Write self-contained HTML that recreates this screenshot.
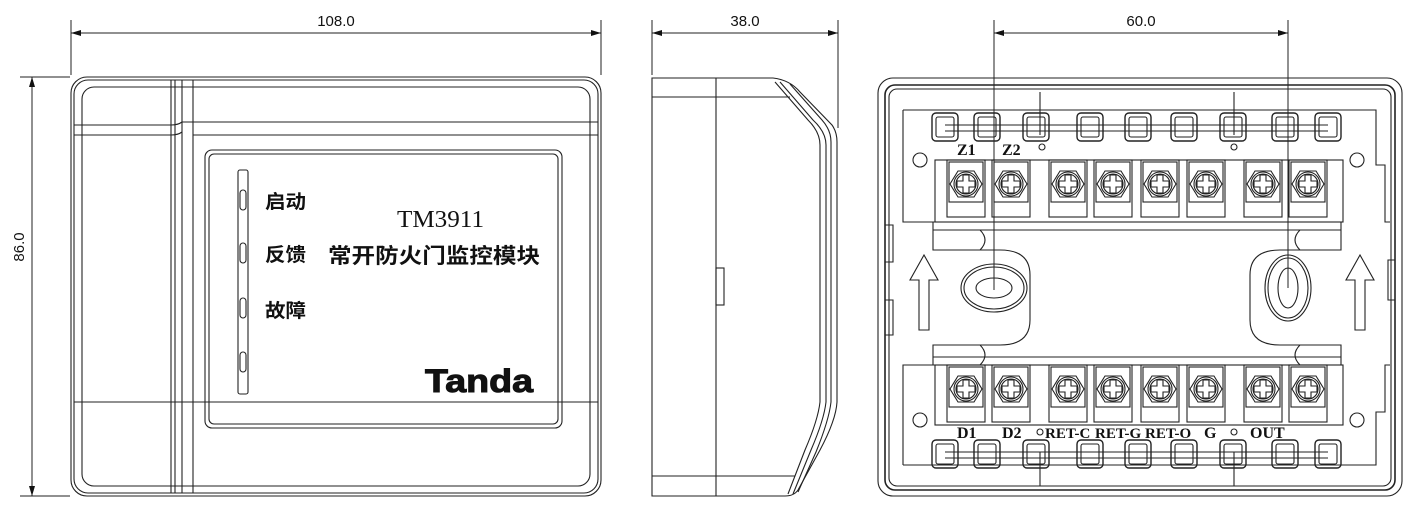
<!DOCTYPE html>
<html><head><meta charset="utf-8"><style>
html,body{margin:0;padding:0;background:#fff;width:1412px;height:507px;overflow:hidden}
svg{display:block}
text{font-family:"Liberation Sans","Noto Sans CJK SC",sans-serif;fill:#111}
.s{font-family:"Liberation Serif","Noto Serif CJK SC",serif}
</style></head><body>
<svg id="d" width="1412" height="507" viewBox="0 0 1412 507" xmlns="http://www.w3.org/2000/svg" fill="none" stroke="#222" stroke-width="1.1">
<defs><marker id="a" viewBox="0 0 10 6" refX="10" refY="3" markerWidth="14" markerHeight="6" orient="auto-start-reverse" markerUnits="userSpaceOnUse"><path d="M0,0L10,3L0,6z" fill="#111" stroke="none"/></marker></defs>
<g stroke-width="1">
<line x1="71" y1="20" x2="71" y2="75"/><line x1="601" y1="20" x2="601" y2="75"/>
<line x1="71" y1="33" x2="601" y2="33" marker-start="url(#a)" marker-end="url(#a)"/>
<line x1="20" y1="77" x2="70" y2="77"/><line x1="20" y1="496" x2="70" y2="496"/>
<line x1="32" y1="77" x2="32" y2="496" marker-start="url(#a)" marker-end="url(#a)"/>
<line x1="652" y1="20" x2="652" y2="75"/><line x1="838" y1="20" x2="838" y2="128"/>
<line x1="652" y1="33" x2="838" y2="33" marker-start="url(#a)" marker-end="url(#a)"/>
<line x1="994" y1="20" x2="994" y2="290"/><line x1="1288" y1="20" x2="1288" y2="288"/>
<line x1="994" y1="33" x2="1288" y2="33" marker-start="url(#a)" marker-end="url(#a)"/>
</g>
<g stroke="none">
<text x="336" y="26" font-size="15" text-anchor="middle">108.0</text>
<text x="745" y="26" font-size="15" text-anchor="middle">38.0</text>
<text x="1141" y="26" font-size="15" text-anchor="middle">60.0</text>
<text x="0" y="0" font-size="15" text-anchor="middle" transform="translate(24,247) rotate(-90)">86.0</text>
</g>
<rect x="71" y="77" width="530" height="419" rx="16"/>
<rect x="74" y="80" width="524" height="413" rx="14"/>
<rect x="82" y="87" width="508" height="399" rx="12"/>
<line x1="171" y1="80" x2="171" y2="493"/><line x1="175" y1="80" x2="175" y2="493"/>
<line x1="182" y1="80" x2="182" y2="493"/><line x1="193" y1="80" x2="193" y2="493"/>
<path d="M74,125H171Q178,125 182,122H598"/><path d="M74,135H171Q178,135 182,132"/><line x1="193" y1="135" x2="598" y2="135"/>
<line x1="74" y1="402" x2="598" y2="402"/>
<rect x="205" y="150" width="357" height="278" rx="7"/>
<rect x="209" y="154" width="349" height="270" rx="5"/>
<rect x="238" y="170" width="10" height="224" rx="2"/>
<rect x="240" y="190" width="6" height="20" rx="3"/><rect x="240" y="243" width="6" height="20" rx="3"/>
<rect x="240" y="298" width="6" height="20" rx="3"/><rect x="240" y="352" width="6" height="20" rx="3"/>
<g stroke="none">
<text x="265" y="208" font-size="19" font-weight="bold" textLength="41" lengthAdjust="spacingAndGlyphs">启动</text>
<text x="265" y="261" font-size="19" font-weight="bold" textLength="41" lengthAdjust="spacingAndGlyphs">反馈</text>
<text x="265" y="317" font-size="19" font-weight="bold" textLength="41" lengthAdjust="spacingAndGlyphs">故障</text>
<text x="397" y="227" font-size="24" class="s" textLength="87" lengthAdjust="spacingAndGlyphs">TM3911</text>
<text x="328" y="263" font-size="21" font-weight="bold" textLength="212" lengthAdjust="spacingAndGlyphs">常开防火门监控模块</text>
<text x="425" y="392" font-size="32" font-weight="bold" textLength="108" lengthAdjust="spacingAndGlyphs" style="fill:#111;stroke:#111;stroke-width:1">Tanda</text>
</g>
<path d="M652,78H773Q790,80 800,92L832,125Q837,132 837,142V402Q836,420 820,450L798,490Q794,496 785,496H652Z"/>
<line x1="716" y1="78" x2="716" y2="496"/>
<line x1="652" y1="97" x2="790" y2="97"/><line x1="652" y1="476" x2="795" y2="476"/>
<rect x="716" y="268" width="8" height="37"/>
<path d="M775,82L808,120Q820,132 820,145V402Q818,420 805,450L788,494"/>
<path d="M780,82L813,120Q826,132 826,145V402Q824,420 811,450L793,494"/>
<path d="M790,84L822,120Q831,130 831,142V402Q829,420 816,452L798,492"/>
<rect x="878" y="78" width="524" height="418" rx="15"/>
<rect x="885" y="85" width="510" height="405" rx="10" stroke-width="1.6"/>
<rect x="889" y="89" width="502" height="397" rx="8"/>
<path d="M903,110H1376V165H1385V222H1390"/><path d="M903,110V222H933"/>
<path d="M903,465H1376V412H1385V365H1390"/><path d="M903,465V365H933"/>
<circle cx="920" cy="160" r="7"/><circle cx="1357" cy="160" r="7"/>
<circle cx="920" cy="420" r="7"/><circle cx="1357" cy="420" r="7"/>
<circle cx="1042" cy="147" r="3"/><circle cx="1234" cy="147" r="3"/>
<circle cx="1040" cy="432" r="3"/><circle cx="1234" cy="432" r="3"/>
<line x1="1040" y1="92" x2="1040" y2="135"/><line x1="1234" y1="92" x2="1234" y2="135"/>
<line x1="1040" y1="452" x2="1040" y2="486"/><line x1="1234" y1="452" x2="1234" y2="486"/>
<rect x="935" y="160" width="408" height="62"/><rect x="935" y="365" width="408" height="60"/>
<path d="M933,222H1341M933,230H1341M933,357H1341M933,365H1341"/>
<path d="M933,222V250H1000Q1030,250 1030,275V320Q1030,345 1000,345H933V365"/>
<path d="M1341,222V250H1280Q1250,250 1250,275V320Q1250,345 1280,345H1341V365"/>
<path d="M980,230Q990,240 980,250M980,345Q990,355 980,365M1300,230Q1290,240 1300,250M1300,345Q1290,355 1300,365"/>
<ellipse cx="994" cy="288" rx="33" ry="24"/><ellipse cx="994" cy="288" rx="30" ry="21"/><ellipse cx="994" cy="288" rx="18" ry="10"/>
<ellipse cx="1288" cy="288" rx="23" ry="33"/><ellipse cx="1288" cy="288" rx="20" ry="30"/><ellipse cx="1288" cy="288" rx="10" ry="20"/>
<path d="M919,330V280H910L924,255L938,280H929V330Z"/>
<path d="M1355,330V280H1346L1360,255L1374,280H1365V330Z"/>
<path d="M885,225H893V262H885M885,300H893V335H885"/>
<path d="M1395,260H1388V300H1395"/>
<g id="terms"></g>
<g stroke="none" font-size="16" font-weight="bold">
<text x="957" y="155" class="s">Z1</text><text x="1002" y="155" class="s">Z2</text>
<text x="957" y="438" class="s">D1</text><text x="1002" y="438" class="s">D2</text>
<text x="1045" y="438" class="s" font-size="15">RET-C</text><text x="1095" y="438" class="s" font-size="15">RET-G</text>
<text x="1145" y="438" class="s" font-size="15">RET-O</text><text x="1204" y="438" class="s">G</text>
<text x="1250" y="438" class="s">OUT</text>
</g>
</svg>
<script>
var g=document.getElementById('terms'),h='';
[966,1011,1068,1113,1160,1206,1263,1308].forEach(function(c){
 [188,393].forEach(function(y){
  h+='<rect x="'+(c-19)+'" y="'+(y-28)+'" width="38" height="57"/>';
  h+='<rect x="'+(c-17)+'" y="'+(y-26)+'" width="34" height="40"/>';
  var p='';for(var i=0;i<6;i++){var a=Math.PI/3*i;p+=(c+16*Math.cos(a)).toFixed(1)+','+(y-4+15*Math.sin(a)).toFixed(1)+' ';}
  h+='<polygon points="'+p+'"/><circle cx="'+c+'" cy="'+(y-4)+'" r="12"/><circle cx="'+c+'" cy="'+(y-4)+'" r="10"/>';
  h+='<path d="M'+(c-3)+','+(y-13)+'h6v6h6v6h-6v6h-6v-6h-6v-6h6z"/>';
 });
});
[945,987,1036,1090,1138,1184,1233,1285,1328].forEach(function(c){
 [113,440].forEach(function(y){
  h+='<rect x="'+(c-13)+'" y="'+y+'" width="26" height="28" rx="4" stroke-width="1.4"/>';
  h+='<rect x="'+(c-9)+'" y="'+(y+4)+'" width="18" height="20" rx="2"/>';
 });
});
h+='<path d="M945,125H1328M945,131H1328M945,452H1328M945,458H1328"/>';
g.innerHTML=h;
</script>
</body></html>
